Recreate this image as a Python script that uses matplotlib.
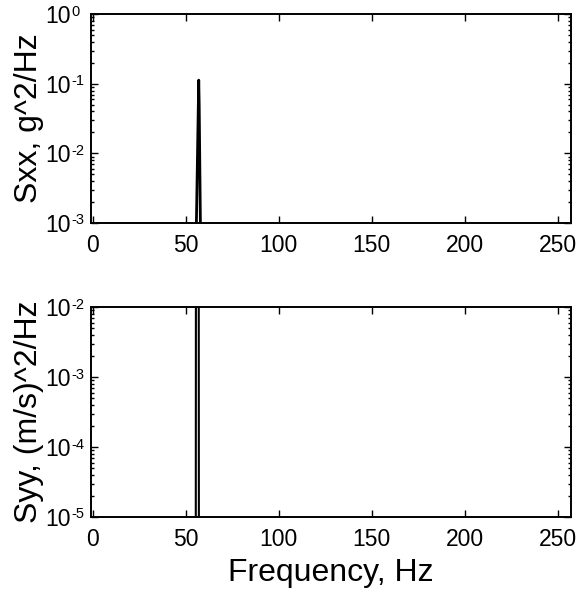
import matplotlib
matplotlib.use("Agg")
import matplotlib.pyplot as plt
from matplotlib.ticker import LogLocator, FixedLocator, NullFormatter

plt.rcParams['font.family'] = ['Liberation Sans', 'DejaVu Sans']

# Data (values off-scale are below the axis floor)
freq_x = [0.0, 55.0, 55.75, 57.0, 57.25, 57.9, 59.0, 256.0]
sxx = [1e-6, 1e-6, 1e-3, 0.113, 0.05, 1e-3, 1e-6, 1e-6]

freq_y = [0.0, 55.0, 55.4, 55.5, 57.0, 57.1, 57.5, 256.0]
syy = [1e-8, 1e-8, 1e-6, 0.05, 0.05, 1e-6, 1e-8, 1e-8]

xticks = [0, 50, 100, 150, 200, 250]
top_exps = [-3, -2, -1, 0]
bottom_exps = [-5, -4, -3, -2]

fig = plt.figure(figsize=(5.78, 5.93), dpi=100)
ax1 = fig.add_axes([0.157, 0.624, 0.831, 0.352])
ax2 = fig.add_axes([0.157, 0.128, 0.831, 0.354])

ax1.plot(freq_x, sxx, color='black', lw=2.0)
ax2.plot(freq_y, syy, color='black', lw=1.5)

for ax, exps in ((ax1, top_exps), (ax2, bottom_exps)):
    ax.set_yscale('log')
    ax.set_ylim(10.0 ** exps[0], 10.0 ** exps[-1])
    ax.set_xlim(-1, 257)
    ax.xaxis.set_major_locator(FixedLocator(xticks))
    vals = [10.0 ** e for e in exps]
    ax.set_yticks(vals, ['10'] * len(vals))
    ax.yaxis.set_minor_locator(LogLocator(base=10, subs=range(2, 10), numticks=10))
    ax.yaxis.set_minor_formatter(NullFormatter())
    ax.tick_params(which='both', direction='in', top=True, right=True,
                   labelsize=16.5, width=1.0)
    ax.tick_params(which='major', length=5)
    ax.tick_params(which='minor', length=2.5)
    ax.tick_params(axis='y', pad=14.5)
    ax.tick_params(axis='x', pad=8)
    for s in ax.spines.values():
        s.set_linewidth(1.4)
    for e, v in zip(exps, vals):
        ax.annotate(str(e), xy=(0, v), xycoords=ax.get_yaxis_transform(),
                    xytext=(-14.2, -1.0), textcoords='offset points',
                    ha='left', va='baseline', fontsize=10.5)

ax1.set_ylabel('Sxx, g^2/Hz', fontsize=23)
ax2.set_ylabel('Syy, (m/s)^2/Hz', fontsize=23)
ax1.yaxis.set_label_coords(-0.098, 0.5)
ax2.yaxis.set_label_coords(-0.098, 0.5)
ax2.set_xlabel('Frequency, Hz', fontsize=23, labelpad=5)

fig.savefig('out.png', dpi=100)
